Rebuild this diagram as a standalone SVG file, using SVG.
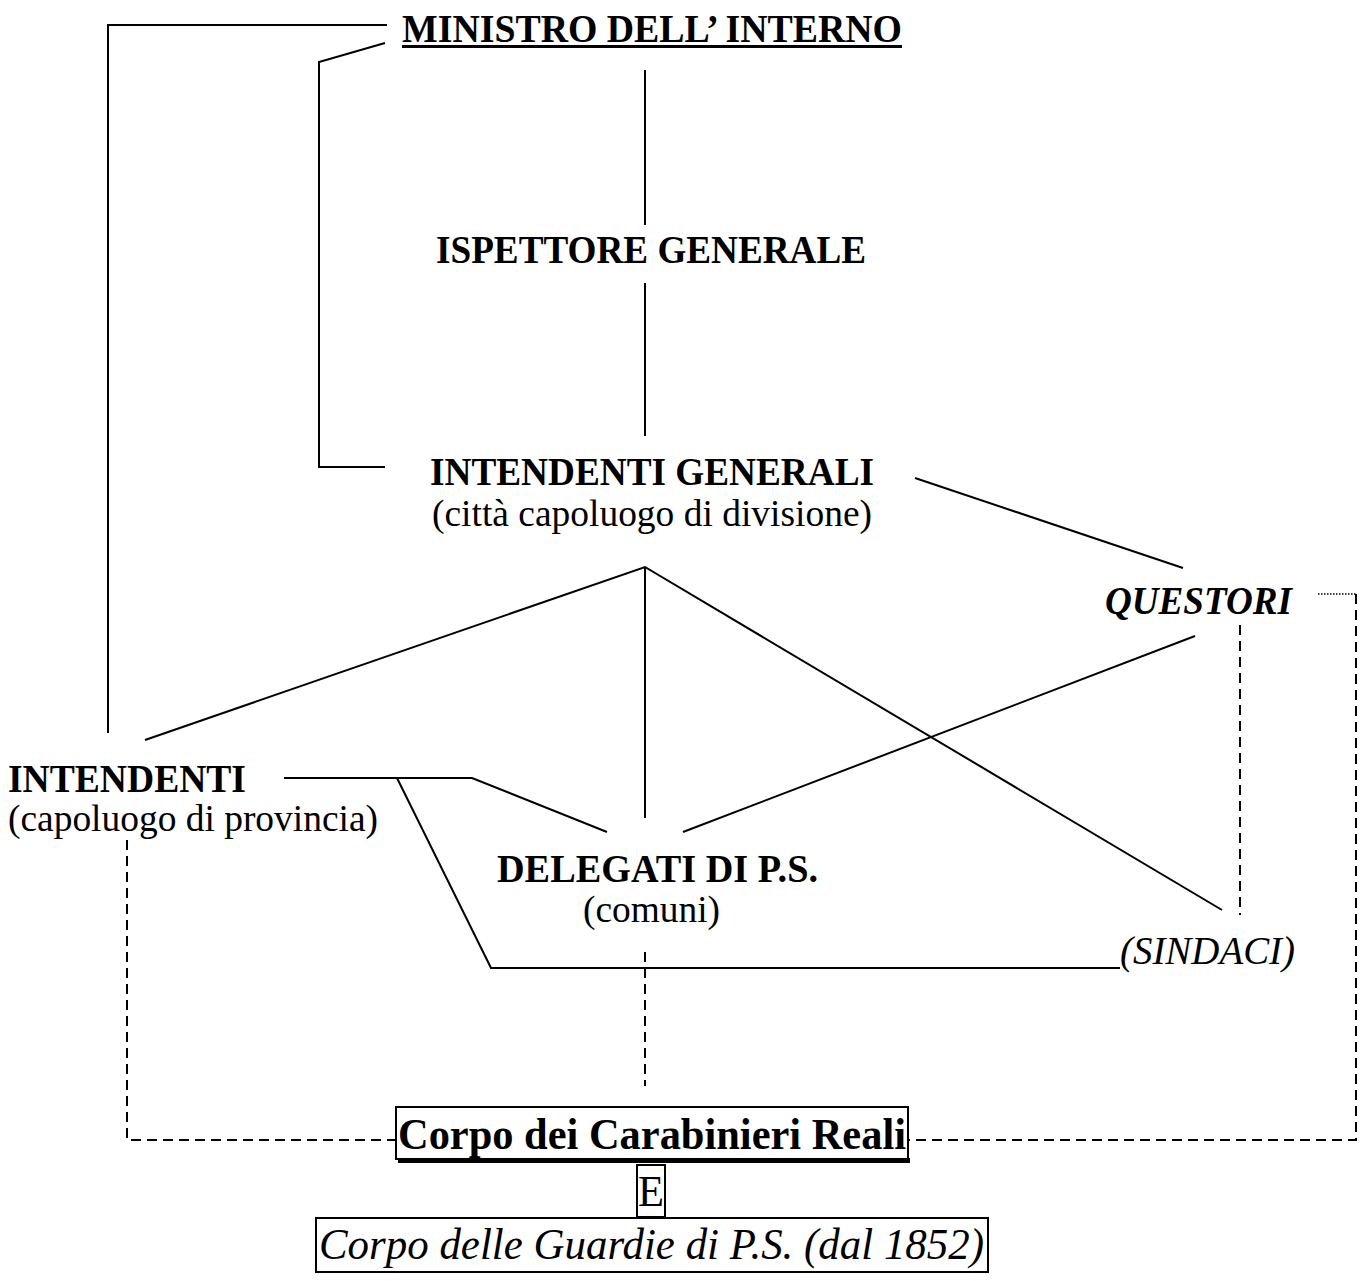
<svg xmlns="http://www.w3.org/2000/svg" width="1366" height="1281" viewBox="0 0 1366 1281">
<style>
text{font-family:"Liberation Serif","Times New Roman",serif;fill:#000}
.b{font-weight:bold;font-size:40px}
.r{font-size:38px;font-weight:normal}
.bi{font-weight:bold;font-style:italic;font-size:40px}
.i{font-style:italic;font-size:40px}
.big{font-size:45px}
.ln{fill:none;stroke:#000;stroke-width:2}
.dh{fill:none;stroke:#000;stroke-width:2;stroke-dasharray:10 6}
.dt{fill:none;stroke:#000;stroke-width:1.5;stroke-dasharray:1.5 1.5}
.box{fill:#fff;stroke:#000;stroke-width:2}
</style>
<rect width="1366" height="1281" fill="#fff"/>
<g id="connectors">
<polyline class="ln" points="387,25 108,25 108,733"/>
<polyline class="ln" points="385,43 319,62 319,467 385,467"/>
<line class="ln" x1="645" y1="70" x2="645" y2="225"/>
<line class="ln" x1="645" y1="283" x2="645" y2="436"/>
<line class="ln" x1="915" y1="478" x2="1183" y2="568"/>
<polyline class="ln" points="145,740 645,567 1222,910"/>
<line class="ln" x1="645" y1="567" x2="645" y2="818"/>
<line class="ln" x1="1195" y1="636" x2="683" y2="832"/>
<polyline class="ln" points="284,778 472,778 607,832"/>
<polyline class="ln" points="397,778 491,968 1120,968"/>
<line class="dh" x1="1240" y1="625" x2="1240" y2="915"/>
<line class="dt" x1="1318" y1="594" x2="1356" y2="594"/>
<polyline class="dh" points="1356,594 1356,1140 908,1140"/>
<polyline class="dh" points="127,840 127,1140 397,1140"/>
<line class="dh" x1="645" y1="952" x2="645" y2="1086"/>
</g>
<g id="ministro">
<text class="b" x="402" y="42" textLength="500" lengthAdjust="spacingAndGlyphs">MINISTRO DELL’ INTERNO</text>
<rect x="402" y="45" width="500" height="3" fill="#000"/>
</g>
<g id="ispettore">
<text class="b" x="436" y="263" textLength="430" lengthAdjust="spacingAndGlyphs">ISPETTORE GENERALE</text>
</g>
<g id="intendenti-generali">
<text class="b"><tspan x="430" y="485" textLength="444" lengthAdjust="spacingAndGlyphs">INTENDENTI GENERALI</tspan><tspan class="r" x="432" y="526" textLength="440" lengthAdjust="spacingAndGlyphs">(città capoluogo di divisione)</tspan></text>
</g>
<g id="questori">
<text class="bi" x="1105" y="614" textLength="187" lengthAdjust="spacingAndGlyphs">QUESTORI</text>
</g>
<g id="intendenti">
<text class="b"><tspan x="8" y="792" textLength="238" lengthAdjust="spacingAndGlyphs">INTENDENTI</tspan><tspan class="r" x="8" y="831" textLength="370" lengthAdjust="spacingAndGlyphs">(capoluogo di provincia)</tspan></text>
</g>
<g id="delegati">
<text class="b"><tspan x="497" y="882" textLength="321" lengthAdjust="spacingAndGlyphs">DELEGATI DI P.S.</tspan><tspan class="r" x="583" y="922" textLength="137" lengthAdjust="spacingAndGlyphs">(comuni)</tspan></text>
</g>
<g id="sindaci">
<text class="i" x="1120" y="964" textLength="175" lengthAdjust="spacingAndGlyphs">(SINDACI)</text>
</g>
<g id="carabinieri">
<rect class="box" x="396" y="1107" width="512" height="52"/>
<rect x="398" y="1158" width="512" height="5" fill="#000"/>
<text class="b big" x="398" y="1149" textLength="508" lengthAdjust="spacingAndGlyphs">Corpo dei Carabinieri Reali</text>
</g>
<g id="e">
<rect class="box" x="637" y="1165" width="28" height="52"/>
<text class="r big" x="638" y="1206" textLength="26" lengthAdjust="spacingAndGlyphs">E</text>
</g>
<g id="guardie">
<rect class="box" x="316" y="1218" width="672" height="54"/>
<text class="i big" x="319" y="1259" textLength="665" lengthAdjust="spacingAndGlyphs">Corpo delle Guardie di P.S. (dal 1852)</text>
</g>
</svg>
